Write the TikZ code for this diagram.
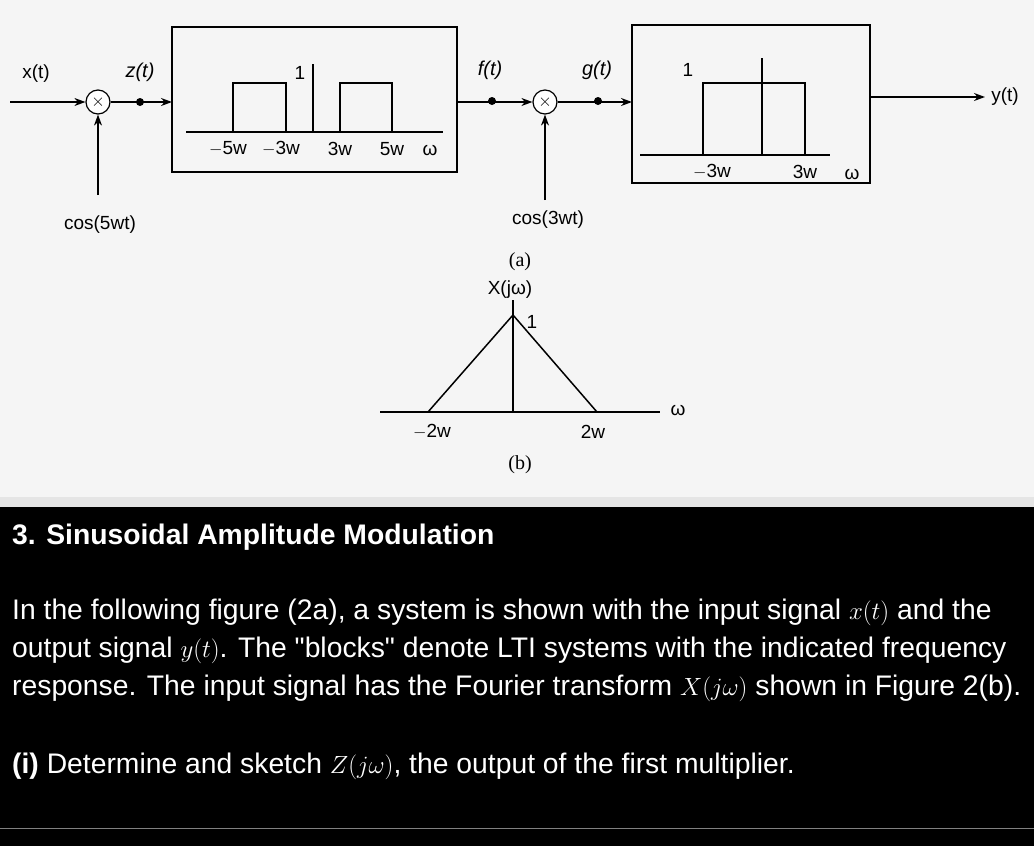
\documentclass[tikz,border=0pt]{standalone}
\usepackage{fontspec}
\setmainfont{Liberation Sans}
\newfontfamily\qf{Liberation Sans}
\newfontfamily\serifx{Liberation Serif}
\usetikzlibrary{arrows.meta}
\begin{document}
\begin{tikzpicture}[x=1pt,y=-1pt,
  lbl/.style={font=\fontsize{19}{22}\selectfont},
  hand/.style={font=\fontsize{20}{24}\selectfont\itshape},
  ln/.style={line width=1.5pt},
  arr/.style={ln,-{Stealth[length=11pt,width=8pt]}},
  mult/.style={circle,draw,line width=1.2pt,minimum size=24pt,inner sep=0pt,fill=white,font=\fontsize{18}{20}\selectfont},
  blk/.style={draw,line width=1.5pt},
  para/.style={anchor=west,text=white,inner sep=0pt,font=\fontsize{28.3}{32}\selectfont}]
\useasboundingbox (0,0) rectangle (1034,846);
\fill[black!4] (0,0) rectangle (1034,497);
\fill[black!10] (0,497) rectangle (1034,507);
\fill[black] (0,507) rectangle (1034,846);
\draw[gray,line width=0.8pt] (0,828) -- (1034,828);
% multipliers
\node[mult] (m1) at (98,102) {$\times$};
\node[mult] (m2) at (545,102) {$\times$};
\coordinate (in) at (10,102);
\draw[arr] (in) -- (m1);
\node[lbl] (xt) at (36,74) {x(t)};
\coordinate (c1) at (98,195);
\draw[arr] (c1) -- (m1);
\node[lbl] (cos5) at (100,225) {cos(5wt)};
\coordinate (c2) at (545,200);
\draw[arr] (c2) -- (m2);
\node[lbl] (cos3) at (548,220) {cos(3wt)};
% box1
\draw[blk] (172,27) rectangle (457,172);
\coordinate (b1l) at (172,102);
\coordinate (b1r) at (457,102);
\draw[arr] (m1) -- (b1l);
\fill (140,102) circle (4pt);
\node[hand] (zt) at (140,72) {z(t)};
\draw[ln] (186,132) -- (443,132);
\draw[ln] (313,64) -- (313,132);
\draw[ln] (233,132) -- (233,83) -- (286,83) -- (286,132);
\draw[ln] (340,132) -- (340,83) -- (392,83) -- (392,132);
\node[lbl] at (300,73) {1};
\node[lbl] at (228,149) {$-$5w};
\node[lbl] at (281,149) {$-$3w};
\node[lbl] at (340,149) {3w};
\node[lbl] at (392,149) {5w};
\node[lbl] at (430,150) {ω};
\draw[arr] (b1r) -- (m2);
\fill (492,101) circle (4pt);
\node[hand] (ft) at (490,70) {f(t)};
% box2
\draw[blk] (632,25) rectangle (870,183);
\coordinate (b2l) at (632,102);
\draw[arr] (m2) -- (b2l);
\fill (598,101) circle (4pt);
\node[hand] (gt) at (597,70) {g(t)};
\draw[ln] (640,155) -- (830,155);
\draw[ln] (762,58) -- (762,155);
\draw[ln] (703,155) -- (703,83) -- (805,83) -- (805,155);
\node[lbl] at (688,70) {1};
\node[lbl] at (712,172) {$-$3w};
\node[lbl] at (805,172) {3w};
\node[lbl] at (852,174) {ω};
\coordinate (b2r) at (870,97);
\coordinate (out) at (985,97);
\draw[arr] (b2r) -- (out);
\node[lbl] (yt) at (1005,97) {y(t)};
\node[font=\serifx\fontsize{20}{24}\selectfont] at (520,262) {(a)};
% X(jw)
\node[lbl] at (510,290) {X(jω)};
\draw[line width=1.2pt] (513,300) -- (513,412);
\draw[line width=1.2pt] (380,412) -- (660,412);
\draw[ln] (428,412) -- (513,315) -- (597,412);
\node[lbl] at (532,322) {1};
\node[lbl] at (432,432) {$-$2w};
\node[lbl] at (593,432) {2w};
\node[lbl] at (678,410) {ω};
\node[font=\serifx\fontsize{20}{24}\selectfont] at (520,465) {(b)};
% text
\node[para,font=\fontsize{28.3}{32}\selectfont\bfseries] at (12,537) {3. Sinusoidal Amplitude Modulation};
\node[para] at (12,612) {In the following figure (2a), a system is shown with the input signal $x(t)$ and the};
\node[para] at (12,650) {output signal $y(t)$. The {\qf"}blocks{\qf"} denote LTI systems with the indicated frequency};
\node[para] at (12,688) {response. The input signal has the Fourier transform $X(j\omega)$ shown in Figure 2(b).};
\node[para] at (12,766) {\textbf{(i)} Determine and sketch $Z(j\omega)$, the output of the first multiplier.};
\end{tikzpicture}
\end{document}
